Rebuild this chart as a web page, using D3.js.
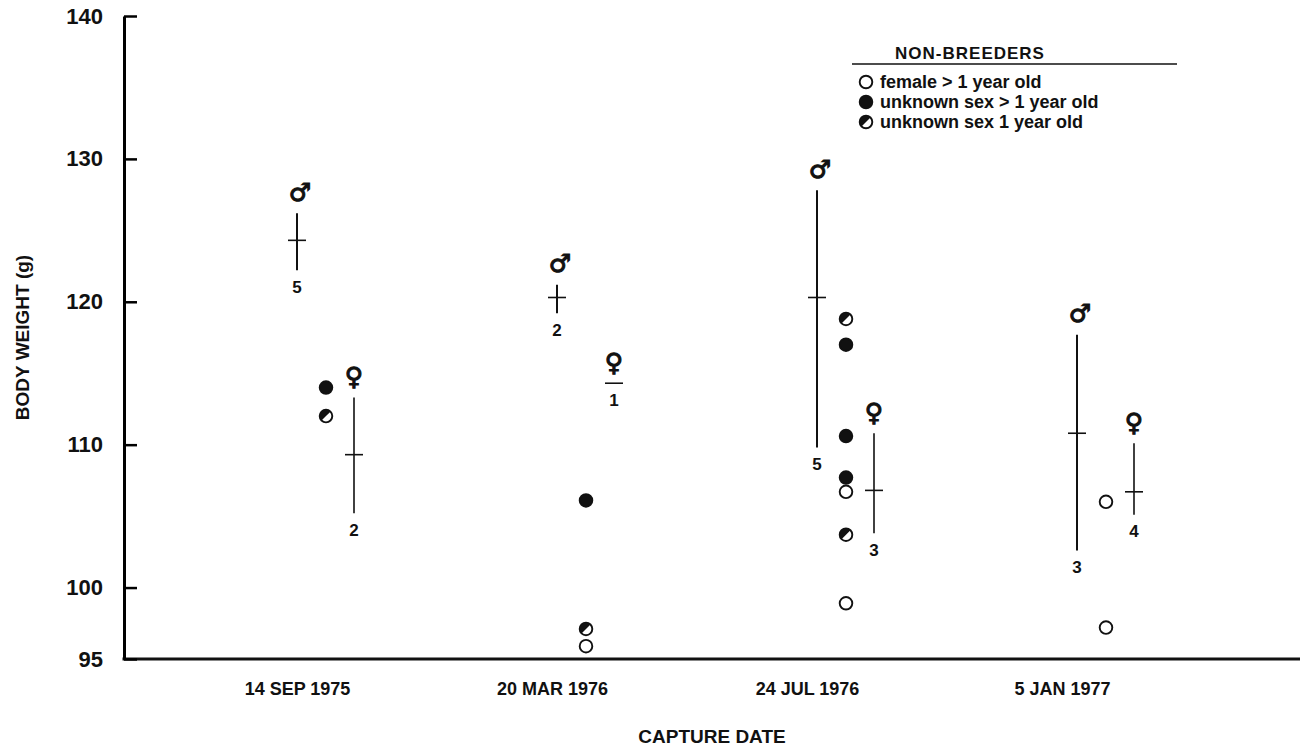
<!DOCTYPE html>
<html>
<head>
<meta charset="utf-8">
<script src="https://cdn.jsdelivr.net/npm/d3@7"></script>
<style>
  body { margin: 0; background: #fff; }
  text { font-family: "Liberation Sans", Arial, sans-serif; font-weight: bold; fill: #111; }
  .sym { font-family: "DejaVu Sans"; stroke: #111; stroke-width: 1.1; fill: #111; }
</style>
</head>
<body>
<div id="chart"></div>
<script>
/* body weight by capture date, breeders (male / female) and non-breeders */

const dates = ["14 SEP 1975", "20 MAR 1976", "24 JUL 1976", "5 JAN 1977"];

// breeding males: mean, range, sample size
const maleMean = [124.3, 120.3, 120.3, 110.8];
const maleMin  = [122.2, 119.2, 109.8, 102.6];
const maleMax  = [126.2, 121.2, 127.8, 117.7];
const maleN    = [5, 2, 5, 3];

// breeding females
const femaleMean = [109.3, 114.3, 106.8, 106.7];
const femaleMin  = [105.2, 114.3, 103.8, 105.1];
const femaleMax  = [113.3, 114.3, 110.8, 110.1];
const femaleN    = [2, 1, 3, 4];

// non-breeders, one list per date
const openPts   = [[], [95.9], [106.7, 98.9], [106.0, 97.2]];         // female > 1 year old
const filledPts = [[114.0], [106.1], [117.0, 110.6, 107.7], []];      // unknown sex > 1 year old
const halfPts   = [[112.0], [97.1], [118.8, 103.7], []];               // unknown sex 1 year old

const yTicks = [95, 100, 110, 120, 130, 140];

const legendTypes  = ["open", "filled", "half"];
const legendLabels = ["female > 1 year old", "unknown sex > 1 year old", "unknown sex 1 year old"];

const width = 1309,
      height = 747,
      margin = ({top: 16, right: 9, bottom: 88, left: 124});

let svg = d3.select("#chart")
    .append("svg")
    .attr("width", width)
    .attr("height", height);

let y = d3.scaleLinear()
    .domain([95, 140])
    .range([height - margin.bottom, margin.top]);

// scale for the date labels and one for the groups of marks
let xa = d3.scalePoint().domain(dates).range([297, 1062]);
let xm = d3.scalePoint().domain(dates).range([297, 1077]);
const offFemale = 57, offNon = 29;

// axes
const yAxis = g => g
    .attr("transform", `translate(${margin.left},0)`)
    .call(d3.axisLeft(y).tickValues(yTicks).tickSizeInner(-13).tickSizeOuter(0).tickPadding(21))
    .call(g => g.select(".domain").attr("stroke-width", 3))
    .call(g => g.selectAll(".tick line").attr("stroke-width", 2.5))
    .call(g => g.selectAll(".tick text").style("font-size", "22px").attr("fill", "#111"));

const xAxis = g => g
    .attr("transform", `translate(0,${height - margin.bottom})`)
    .call(d3.axisBottom(xa).tickSize(0).tickPadding(23))
    .call(g => g.select(".domain").remove())
    .call(g => g.selectAll(".tick text").style("font-size", "18px").attr("fill", "#111"));

svg.append("g").call(xAxis);

svg.append("line")
    .attr("x1", margin.left - 1.5).attr("x2", width - margin.right)
    .attr("y1", y(95)).attr("y2", y(95))
    .attr("stroke", "#111").attr("stroke-width", 3);

svg.append("g").call(yAxis);

svg.append("text")
    .attr("transform", `translate(22,${(y(95) + y(140)) / 2}) rotate(-90)`)
    .attr("text-anchor", "middle")
    .attr("dominant-baseline", "central")
    .style("font-size", "19px")
    .text("BODY WEIGHT (g)");

svg.append("text")
    .attr("x", 712).attr("y", 743)
    .attr("text-anchor", "middle")
    .style("font-size", "19px")
    .text("CAPTURE DATE");

// range bars with mean tick
function drawGroup(cls, mean, lo, hi, n, dx, symbol, sw) {
    let g = svg.selectAll("." + cls)
        .data(dates)
        .join("g")
        .attr("class", cls)
        .attr("transform", d => `translate(${xm(d) + dx},0)`);

    g.append("line")
        .attr("y1", (d, i) => y(hi[i]))
        .attr("y2", (d, i) => y(lo[i]))
        .attr("stroke", "#111").attr("stroke-width", sw);

    g.append("line")
        .attr("x1", -9).attr("x2", 9)
        .attr("y1", (d, i) => y(mean[i]))
        .attr("y2", (d, i) => y(mean[i]))
        .attr("stroke", "#111").attr("stroke-width", 1.6);

    g.append("text")
        .attr("class", "sym")
        .attr("x", cls === "male" ? 3 : 0)
        .attr("y", (d, i) => y(hi[i]) - 21)
        .attr("text-anchor", "middle")
        .attr("dominant-baseline", "central")
        .style("font-size", "25px")
        .text(symbol + "\uFE0E");

    g.append("text")
        .attr("y", (d, i) => y(lo[i]) + 17)
        .attr("text-anchor", "middle")
        .attr("dominant-baseline", "central")
        .style("font-size", "17px")
        .text((d, i) => n[i]);
}

drawGroup("male", maleMean, maleMin, maleMax, maleN, 0, "\u2642", 2);
drawGroup("female", femaleMean, femaleMin, femaleMax, femaleN, offFemale, "\u2640", 1.6);

// non-breeder markers
const r = 6.3;
const half = d3.arc().innerRadius(0).outerRadius(r).startAngle(-3 * Math.PI / 4).endAngle(Math.PI / 4);

function marker(sel, type) {
    sel.append("circle")
        .attr("r", r)
        .attr("fill", type === "filled" ? "#111" : "#fff")
        .attr("stroke", "#111").attr("stroke-width", 1.9);
    if (type === "half") sel.append("path").attr("d", half).attr("fill", "#111");
}

let pts = [];
dates.forEach((d, i) => {
    openPts[i].forEach(v => pts.push({date: d, value: v, type: "open"}));
    filledPts[i].forEach(v => pts.push({date: d, value: v, type: "filled"}));
    halfPts[i].forEach(v => pts.push({date: d, value: v, type: "half"}));
});

svg.selectAll(".pt")
    .data(pts)
    .join("g")
    .attr("class", "pt")
    .attr("transform", d => `translate(${xm(d.date) + offNon},${y(d.value)})`)
    .each(function(d) { marker(d3.select(this), d.type); });

// legend
let legend = svg.append("g").attr("transform", "translate(852,0)");

legend.append("text")
    .attr("x", 118).attr("y", 59)
    .attr("text-anchor", "middle")
    .style("font-size", "17px")
    .style("letter-spacing", "1px")
    .text("NON-BREEDERS");

legend.append("line")
    .attr("x1", 0).attr("x2", 325)
    .attr("y1", 64).attr("y2", 64)
    .attr("stroke", "#111").attr("stroke-width", 1.6);

let item = legend.selectAll(".item")
    .data(legendTypes)
    .join("g")
    .attr("class", "item")
    .attr("transform", (d, i) => `translate(14,${82 + i * 20})`);

item.each(function(d) { marker(d3.select(this), d); });

item.append("text")
    .attr("x", 14)
    .attr("dominant-baseline", "central")
    .style("font-size", "18px")
    .text((d, i) => legendLabels[i]);
</script>
</body>
</html>
